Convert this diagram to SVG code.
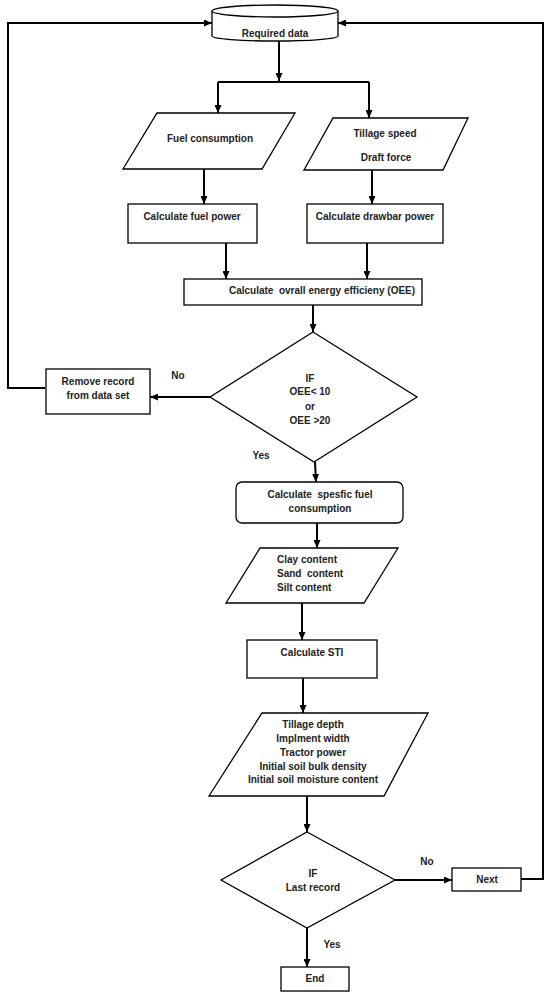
<svg xmlns="http://www.w3.org/2000/svg" width="550" height="997" viewBox="0 0 550 997">
<defs>
<marker id="ah" markerWidth="8" markerHeight="7" refX="8" refY="3.5" orient="auto" markerUnits="userSpaceOnUse">
<path d="M0,0 L8,3.5 L0,7 Z" fill="#000"/>
</marker>
<style>
.s{fill:#fff;stroke:#000;stroke-width:1.3}
.c{fill:none;stroke:#000;stroke-width:2}
.a{fill:none;stroke:#000;stroke-width:2;marker-end:url(#ah)}
text{font-family:"Liberation Sans",Arial,sans-serif;font-weight:bold;font-size:10px;fill:#222;text-anchor:middle;dominant-baseline:central;white-space:pre}
.l{text-anchor:start}
</style>
</defs>
<rect width="550" height="997" fill="#fff"/>
<g id="connectors">
<line class="a" x1="279" y1="41" x2="279" y2="81"/>
<line class="c" x1="218" y1="82" x2="369" y2="82"/>
<line class="a" x1="218" y1="82" x2="218" y2="113"/>
<line class="a" x1="369" y1="82" x2="369" y2="118"/>
<line class="a" x1="204" y1="169" x2="204" y2="204"/>
<line class="a" x1="372" y1="170" x2="372" y2="204"/>
<line class="a" x1="226" y1="243" x2="226" y2="279"/>
<line class="a" x1="367" y1="243" x2="367" y2="279"/>
<line class="a" x1="313" y1="305" x2="313" y2="332"/>
<line class="a" x1="210" y1="397" x2="150" y2="397"/>
<path class="a" d="M45,388 H8 V23 H212"/>
<line class="a" x1="315" y1="462" x2="316" y2="482"/>
<line class="a" x1="317" y1="523" x2="317" y2="548"/>
<line class="a" x1="302" y1="603" x2="302" y2="640"/>
<line class="a" x1="303" y1="678" x2="303" y2="713"/>
<line class="a" x1="307" y1="796" x2="307" y2="832"/>
<line class="a" x1="395" y1="880" x2="452" y2="880"/>
<path class="a" d="M521,879 H543 V23 H338"/>
<line class="a" x1="307" y1="928" x2="307" y2="967"/>
</g>
<g id="required-data">
<path class="s" d="M212,11 V36 A63,5 0 0 0 338,36 V11"/>
<ellipse class="s" cx="275" cy="11" rx="63" ry="6"/>
<text x="275" y="33">Required data</text>
</g>
<g id="fuel-consumption">
<polygon class="s" points="157,113 295,113 262,169 123,169"/>
<text x="210" y="138">Fuel consumption</text>
</g>
<g id="tillage-speed">
<polygon class="s" points="333,118 468,118 443,170 304,170"/>
<text x="385" y="133">Tillage speed</text>
<text x="386" y="157">Draft force</text>
</g>
<g id="fuel-power">
<rect class="s" x="128" y="204" width="129" height="39"/>
<text x="192" y="216">Calculate fuel power</text>
</g>
<g id="drawbar-power">
<rect class="s" x="307" y="204" width="136" height="39"/>
<text x="375" y="216">Calculate drawbar power</text>
</g>
<g id="oee">
<rect class="s" x="184" y="279" width="238" height="26"/>
<text x="322" y="290">Calculate  ovrall energy efficieny (OEE)</text>
</g>
<g id="if-oee">
<polygon class="s" points="313,332 417,397 314,462 210,397"/>
<text x="310" y="378">IF</text>
<text x="310" y="391">OEE&lt; 10</text>
<text x="310" y="406">or</text>
<text x="310" y="420">OEE &gt;20</text>
</g>
<g id="remove-record">
<rect class="s" x="46" y="369" width="104" height="45"/>
<text x="98" y="381">Remove record</text>
<text x="98" y="395">from data set</text>
</g>
<g id="specific-fuel">
<rect class="s" x="236" y="482" width="167" height="41" rx="6"/>
<text x="320" y="494">Calculate  spesfic fuel</text>
<text x="320" y="508">consumption</text>
</g>
<g id="soil-texture">
<polygon class="s" points="260,548 398,548 364,603 226,603"/>
<text class="l" x="277" y="559">Clay content</text>
<text class="l" x="277" y="573">Sand  content</text>
<text class="l" x="277" y="587">Silt content</text>
</g>
<g id="sti">
<rect class="s" x="247" y="640" width="130" height="38"/>
<text x="312" y="652">Calculate STI</text>
</g>
<g id="inputs">
<polygon class="s" points="262,713 428,713 384,796 209,796"/>
<text x="313" y="724">Tillage depth</text>
<text x="313" y="738">Implment width</text>
<text x="313" y="752">Tractor power</text>
<text x="313" y="766">Initial soil bulk density</text>
<text x="313" y="779">Initial soil moisture content</text>
</g>
<g id="if-last">
<polygon class="s" points="307,832 395,880 307,928 221,880"/>
<text x="313" y="873">IF</text>
<text x="313" y="887">Last record</text>
</g>
<g id="next">
<rect class="s" x="452" y="868" width="69" height="23"/>
<text x="487" y="879">Next</text>
</g>
<g id="end">
<rect class="s" x="281" y="967" width="68" height="24"/>
<text x="315" y="978">End</text>
</g>
<g id="labels">
<text x="178" y="375">No</text>
<text x="261" y="455">Yes</text>
<text x="427" y="861">No</text>
<text x="332" y="944">Yes</text>
</g>
</svg>
